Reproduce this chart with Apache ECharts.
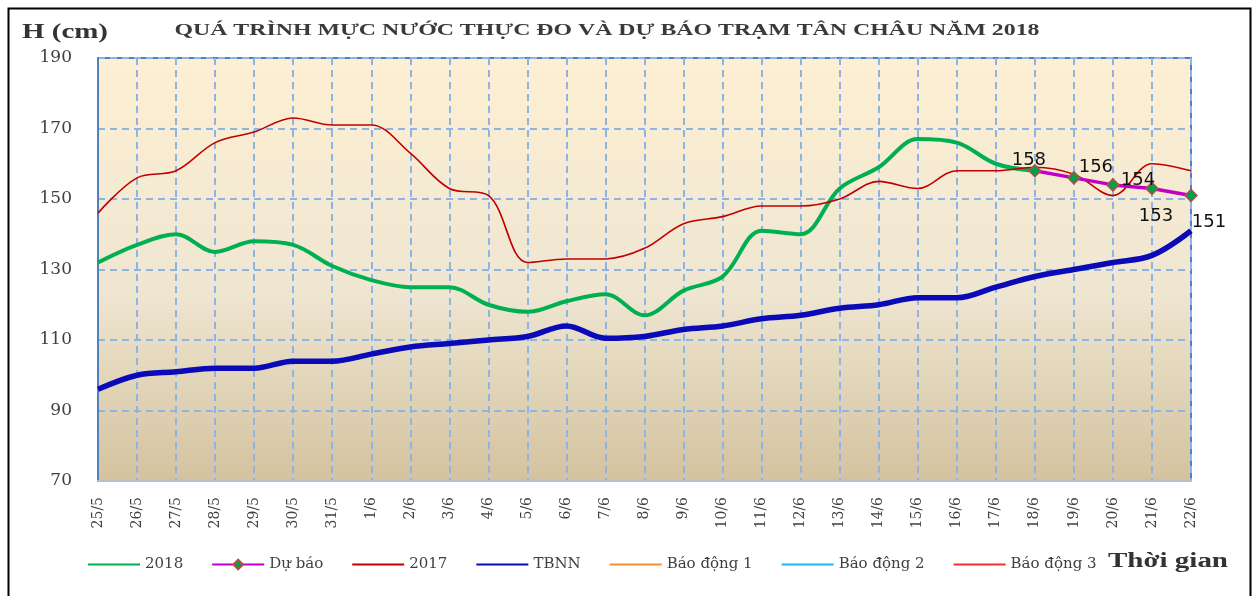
<!DOCTYPE html>
<html>
<head>
<meta charset="utf-8">
<script src="https://cdn.jsdelivr.net/npm/echarts@6/dist/echarts.min.js"></script>
<style>
  html, body { margin: 0; padding: 0; background: #fff; }
  #main { width: 1257px; height: 596px; }
</style>
</head>
<body>
<div id="main"></div>
<script>
// du lieu doc tu hinh
var dates = ['25/5', '26/5', '27/5', '28/5', '29/5', '30/5', '31/5',
  '1/6', '2/6', '3/6', '4/6', '5/6', '6/6', '7/6', '8/6', '9/6', '10/6', '11/6',
  '12/6', '13/6', '14/6', '15/6', '16/6', '17/6', '18/6', '19/6', '20/6', '21/6', '22/6'];

var h2018 = [132, 137, 140, 135, 138, 137, 131, 127, 125, 125, 120, 118, 121, 123, 117,
  124, 128, 141, 140, 153, 159, 167, 166, 160, 158, null, null, null, null];

var duBao = [null, null, null, null, null, null, null, null, null, null, null, null, null, null, null,
  null, null, null, null, null, null, null, null, null, 158, 156, 154, 153, 151];

var h2017 = [146, 156, 158, 166, 169, 173, 171, 171, 163, 153, 151, 132, 133, 133, 136,
  143, 145, 148, 148, 150, 155, 153, 158, 158, 159, 157, 151, 160, 158];

var tbnn = [96, 100, 101, 102, 102, 104, 104, 106, 108, 109, 110, 111, 114, 110.5, 111,
  113, 114, 116, 117, 119, 120, 122, 122, 125, 128, 130, 132, 134, 141];

var yTicks = [70, 90, 110, 130, 150, 170, 190];

var legendNames = ['2018', 'Dự báo', '2017', 'TBNN', 'Báo động 1', 'Báo động 2', 'Báo động 3'];

// vi tri nhan cua diem du bao
var labelPos = [
  {position: 'top', offset: [-6, 10]},
  {position: 'top', offset: [22, 10]},
  {position: 'top', offset: [25, 16]},
  {position: 'bottom', offset: [4, 7]},
  {position: 'bottom', offset: [18, 6]}
];

// do rong chu -> co gian ngang cho giong hinh goc
function fitScale(text, font, w) {
  var ctx = document.createElement('canvas').getContext('2d');
  ctx.font = font;
  return w / ctx.measureText(text).width;
}

var titleText = 'QUÁ TRÌNH MỰC NƯỚC THỰC ĐO VÀ DỰ BÁO TRẠM TÂN CHÂU NĂM 2018';
var titleFont = 'bold 16px "Liberation Serif"';
var hFont = 'bold 21px "Liberation Serif"';
var tgFont = 'bold 20px "Liberation Serif"';

var duBaoData = [];
var k = 0;
for (var i = 0; i < duBao.length; i++) {
  if (duBao[i] === null) {
    duBaoData.push(null);
  } else {
    duBaoData.push({value: duBao[i], label: labelPos[k]});
    k++;
  }
}

// chu thich: chi ve duong, rieng du bao co hinh thoi
var legendData = legendNames.map(function (n) {
  if (n === 'Dự báo') return {name: n};
  return {name: n, itemStyle: {opacity: 0}};
});

var chart = echarts.init(document.getElementById('main'));

var option = {
  animation: false,
  grid: {
    left: 98,
    right: 66,
    top: 58,
    bottom: 115,
    show: true,
    borderColor: '#4F81BD',
    borderWidth: 2,
    backgroundColor: {
      type: 'linear', x: 0, y: 0, x2: 0, y2: 1,
      colorStops: [
        {offset: 0, color: '#FDEFD2'},
        {offset: 0.55, color: '#EFE6D2'},
        {offset: 1, color: '#D3C29E'}
      ]
    }
  },
  legend: {
    left: 82,
    top: 552,
    itemWidth: 52,
    itemHeight: 12,
    itemGap: 28,
    lineStyle: {width: 2},
    textStyle: {fontFamily: 'DejaVu Serif', fontSize: 15, color: '#404040'},
    data: legendData
  },
  xAxis: {
    type: 'category',
    boundaryGap: false,
    data: dates,
    axisLine: {lineStyle: {color: '#B8C2CC', width: 2}},
    axisTick: {show: false},
    axisLabel: {
      rotate: 90,
      interval: 0,
      margin: 16,
      fontFamily: 'DejaVu Serif',
      fontSize: 14,
      color: '#404040'
    },
    splitLine: {
      show: true,
      interval: 0,
      lineStyle: {color: '#8DB4E2', width: 2, type: [7, 5]}
    }
  },
  yAxis: {
    type: 'value',
    min: yTicks[0],
    max: yTicks[yTicks.length - 1],
    interval: 20,
    axisLine: {show: true, lineStyle: {color: '#4F81BD', width: 2}},
    axisTick: {show: false},
    axisLabel: {
      margin: 26,
      fontFamily: 'DejaVu Serif',
      fontSize: 17,
      color: '#404040'
    },
    splitLine: {lineStyle: {color: '#8DB4E2', width: 2, type: [7, 5]}}
  },
  series: [
    {
      name: '2018',
      type: 'line',
      data: h2018,
      smooth: 0.35,
      symbol: 'none',
      z: 3,
      itemStyle: {color: '#00B050'},
      lineStyle: {color: '#00B050', width: 4}
    },
    {
      name: 'Dự báo',
      type: 'line',
      data: duBaoData,
      symbol: 'diamond',
      symbolSize: 12,
      z: 5,
      itemStyle: {color: '#00A04A', borderColor: '#B0504A', borderWidth: 1.5},
      lineStyle: {color: '#C000C8', width: 3.5},
      label: {
        show: true,
        fontFamily: 'DejaVu Sans',
        fontSize: 18,
        color: '#111',
        distance: 5
      }
    },
    {
      name: '2017',
      type: 'line',
      data: h2017,
      smooth: 0.35,
      symbol: 'none',
      z: 4,
      itemStyle: {color: '#C00000'},
      lineStyle: {color: '#C00000', width: 1.6}
    },
    {
      name: 'TBNN',
      type: 'line',
      data: tbnn,
      smooth: 0.35,
      symbol: 'none',
      z: 3,
      itemStyle: {color: '#0A0AB8'},
      lineStyle: {color: '#0A0AB8', width: 5.5}
    },
    {
      name: 'Báo động 1', type: 'line', data: [], symbol: 'none',
      itemStyle: {color: '#F0902E'}, lineStyle: {color: '#F0902E', width: 2}
    },
    {
      name: 'Báo động 2', type: 'line', data: [], symbol: 'none',
      itemStyle: {color: '#1CB4F0'}, lineStyle: {color: '#1CB4F0', width: 2}
    },
    {
      name: 'Báo động 3', type: 'line', data: [], symbol: 'none',
      itemStyle: {color: '#F03030'}, lineStyle: {color: '#F03030', width: 2}
    }
  ],
  graphic: [
    {
      type: 'rect',
      left: 6, top: 6,
      shape: {width: 1242, height: 620},
      style: {fill: null, stroke: '#000', lineWidth: 2}
    },
    {
      type: 'text',
      x: 607, y: 31,
      scaleX: fitScale(titleText, titleFont, 865),
      style: {
        text: titleText, font: titleFont, fill: '#3A3A3A',
        textAlign: 'center', textVerticalAlign: 'middle',
        align: 'center', verticalAlign: 'middle'
      }
    },
    {
      type: 'text',
      x: 22, y: 33,
      scaleX: fitScale('H (cm)', hFont, 86),
      style: {
        text: 'H (cm)', font: hFont, fill: '#333',
        textAlign: 'left', textVerticalAlign: 'middle',
        align: 'left', verticalAlign: 'middle'
      }
    },
    {
      type: 'text',
      x: 1108, y: 562,
      scaleX: fitScale('Thời gian', tgFont, 120),
      style: {
        text: 'Thời gian', font: tgFont, fill: '#333',
        textAlign: 'left', textVerticalAlign: 'middle',
        align: 'left', verticalAlign: 'middle'
      }
    }
  ]
};

chart.setOption(option);
</script>
</body>
</html>
